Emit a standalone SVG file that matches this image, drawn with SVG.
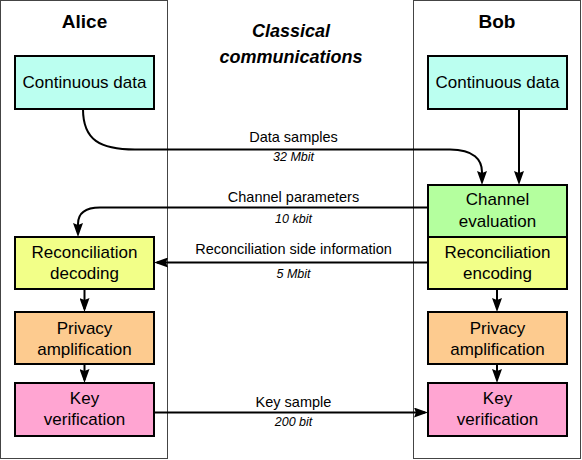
<svg xmlns="http://www.w3.org/2000/svg" width="582" height="460" viewBox="0 0 582 460">
<defs>
<style>
.panel{fill:#fff;stroke:#444;stroke-width:1}
.box{stroke:#000;stroke-width:2}
.cyan{fill:#bbfff0}
.green{fill:#b4ff9e}
.yellow{fill:#f2ff88}
.orange{fill:#fdcb8f}
.pink{fill:#ffa5d2}
text{font-family:"Liberation Sans",Arial,sans-serif;fill:#000;text-anchor:middle}
.title{font-size:19px;font-weight:bold}
.mid{font-size:18px;font-weight:bold;font-style:italic}
.bt{font-size:17px}
.lbl{font-size:14.5px}
.sub{font-size:12.5px;font-style:italic}
.conn{fill:none;stroke:#000;stroke-width:2;marker-end:url(#arr)}
</style>
<marker id="arr" markerUnits="userSpaceOnUse" markerWidth="14" markerHeight="10" refX="11" refY="5" orient="auto">
<path d="M0,0 L14,5 L0,10 L2,5 z" fill="#000"/>
</marker>
</defs>
<rect width="582" height="460" fill="#fff"/>
<g id="panels">
<rect class="panel" x="0.5" y="0.5" width="167" height="458"/>
<rect class="panel" x="413.5" y="0.5" width="167" height="458"/>
<text class="title" x="84.5" y="28">Alice</text>
<text class="title" x="497" y="28">Bob</text>
<text class="mid" x="291" y="37">Classical</text>
<text class="mid" x="291" y="63">communications</text>
</g>
<g id="connectors">
<path class="conn" d="M83 109 C83 140 100 149.5 135 149.5 L450 149.5 C474 149.5 482 160 482 172 L482 182"/>
<path class="conn" d="M519 109 L519 182"/>
<path class="conn" d="M428 207.5 L100 207.5 C86 207.5 78 213 78 224 L78 234"/>
<path class="conn" d="M428 262.5 L157 262.5"/>
<path class="conn" d="M84.5 289 L84.5 309"/>
<path class="conn" d="M84.5 364 L84.5 380"/>
<path class="conn" d="M497 289 L497 309"/>
<path class="conn" d="M497 364 L497 380"/>
<path class="conn" d="M154 412.5 L425 412.5"/>
<text class="lbl" x="293.5" y="141.5">Data samples</text>
<text class="sub" x="293.5" y="161">32 Mbit</text>
<text class="lbl" x="293.5" y="201.5">Channel parameters</text>
<text class="sub" x="293.5" y="222.5">10 kbit</text>
<text class="lbl" x="293.5" y="253.5">Reconciliation side information</text>
<text class="sub" x="293.5" y="278">5 Mbit</text>
<text class="lbl" x="293.5" y="406.5">Key sample</text>
<text class="sub" x="293.5" y="426">200 bit</text>
</g>
<g id="alice-cont"><rect class="box cyan" x="15" y="56" width="139" height="53"/><text class="bt" x="84.5" y="88">Continuous data</text></g>
<g id="alice-recdec"><rect class="box yellow" x="15" y="237" width="139" height="52"/><text class="bt" x="84.5" y="257.5">Reconciliation</text><text class="bt" x="84.5" y="279">decoding</text></g>
<g id="alice-priv"><rect class="box orange" x="15" y="312" width="139" height="52"/><text class="bt" x="84.5" y="333.5">Privacy</text><text class="bt" x="84.5" y="355">amplification</text></g>
<g id="alice-key"><rect class="box pink" x="15" y="383" width="139" height="53"/><text class="bt" x="84.5" y="403.5">Key</text><text class="bt" x="84.5" y="425">verification</text></g>
<g id="bob-cont"><rect class="box cyan" x="428" y="56" width="139" height="53"/><text class="bt" x="497.5" y="88">Continuous data</text></g>
<g id="bob-chan"><rect class="box green" x="428" y="185" width="139" height="52"/><text class="bt" x="497.5" y="205">Channel</text><text class="bt" x="497.5" y="226.5">evaluation</text></g>
<g id="bob-recenc"><rect class="box yellow" x="428" y="237" width="139" height="52"/><text class="bt" x="497.5" y="257.5">Reconciliation</text><text class="bt" x="497.5" y="279">encoding</text></g>
<g id="bob-priv"><rect class="box orange" x="428" y="312" width="139" height="52"/><text class="bt" x="497.5" y="333.5">Privacy</text><text class="bt" x="497.5" y="355">amplification</text></g>
<g id="bob-key"><rect class="box pink" x="428" y="383" width="139" height="53"/><text class="bt" x="497.5" y="403.5">Key</text><text class="bt" x="497.5" y="425">verification</text></g>
</svg>
